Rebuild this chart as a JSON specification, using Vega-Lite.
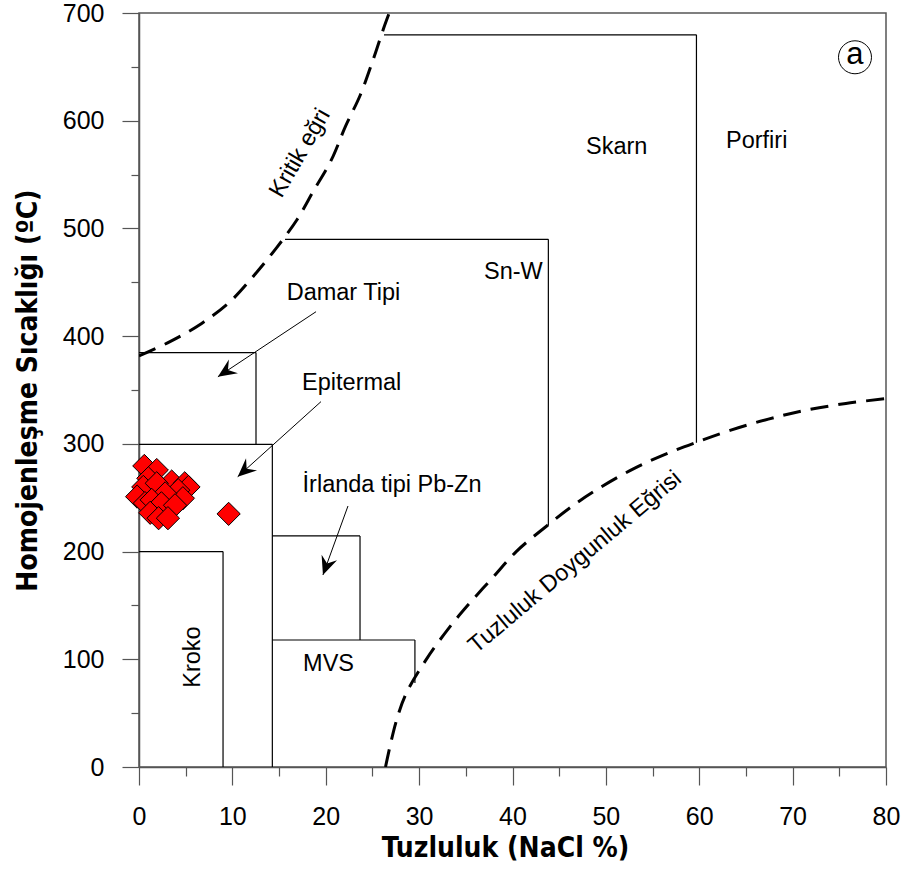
{
  "$schema": "https://vega.github.io/schema/vega-lite/v6.json",
  "width": 747,
  "height": 754,
  "autosize": "none",
  "padding": {"left": 139, "top": 13, "right": 17, "bottom": 105},
  "background": "white",
  "config": {
    "view": {"stroke": "#555555", "strokeWidth": 1.5},
    "axis": {
      "domainColor": "#555555",
      "domainWidth": 1.5,
      "tickColor": "#555555",
      "tickWidth": 1.2,
      "grid": false,
      "labelFont": "Liberation Sans",
      "labelFontSize": 25,
      "labelColor": "black",
      "labelOverlap": false,
      "labelFlush": false,
      "titleFont": "DejaVu Sans Condensed",
      "titleFontSize": 28,
      "titleFontWeight": "bold",
      "titleColor": "black"
    }
  },
  "datasets": {
    "boxes": [
      {"x": 0, "y": 200, "x2": 9.0, "y2": 200},
      {"x": 9.0, "y": 200, "x2": 9.0, "y2": 0},
      {"x": 0, "y": 299.6, "x2": 14.28, "y2": 299.6},
      {"x": 14.28, "y": 299.6, "x2": 14.28, "y2": 0},
      {"x": 0, "y": 384.7, "x2": 12.53, "y2": 384.7},
      {"x": 12.53, "y": 384.7, "x2": 12.53, "y2": 299.6},
      {"x": 14.28, "y": 214.5, "x2": 23.67, "y2": 214.5},
      {"x": 23.67, "y": 214.5, "x2": 23.67, "y2": 117.9},
      {"x": 14.28, "y": 117.9, "x2": 29.55, "y2": 117.9},
      {"x": 29.55, "y": 117.9, "x2": 29.55, "y2": 78},
      {"x": 15.64, "y": 489.9, "x2": 43.84, "y2": 489.9},
      {"x": 43.84, "y": 489.9, "x2": 43.84, "y2": 224},
      {"x": 26.24, "y": 679.7, "x2": 59.7, "y2": 679.7},
      {"x": 59.7, "y": 679.7, "x2": 59.7, "y2": 301}
    ],
    "shafts": [
      {"x": 18.96, "y": 422.7, "x2": 8.45, "y2": 362.3},
      {"x": 19.49, "y": 339.2, "x2": 10.57, "y2": 269.5},
      {"x": 22.38, "y": 242.3, "x2": 19.7, "y2": 178.3}
    ],
    "heads": [
      {"x": 8.45, "y": 362.3, "ang": 236.5},
      {"x": 10.57, "y": 269.5, "ang": 228},
      {"x": 19.7, "y": 178.3, "ang": 200}
    ],
    "curves": [
      {"curve": "Kritik", "x": 0, "y": 381.6},
      {"curve": "Kritik", "x": 3.32, "y": 394.9},
      {"curve": "Kritik", "x": 6.71, "y": 411.8},
      {"curve": "Kritik", "x": 9.75, "y": 432},
      {"curve": "Kritik", "x": 12.2, "y": 455.2},
      {"curve": "Kritik", "x": 14.6, "y": 480.6},
      {"curve": "Kritik", "x": 16.9, "y": 507.8},
      {"curve": "Kritik", "x": 18.7, "y": 535},
      {"curve": "Kritik", "x": 20.6, "y": 563.6},
      {"curve": "Kritik", "x": 22.1, "y": 594.5},
      {"curve": "Kritik", "x": 23.7, "y": 623.9},
      {"curve": "Kritik", "x": 25.0, "y": 654.8},
      {"curve": "Kritik", "x": 26.2, "y": 685.8},
      {"curve": "Kritik", "x": 26.8, "y": 700},
      {"curve": "Doygunluk", "x": 26.4, "y": 0},
      {"curve": "Doygunluk", "x": 27.5, "y": 41},
      {"curve": "Doygunluk", "x": 28.6, "y": 68},
      {"curve": "Doygunluk", "x": 30.7, "y": 99},
      {"curve": "Doygunluk", "x": 33.1, "y": 128},
      {"curve": "Doygunluk", "x": 35.3, "y": 151},
      {"curve": "Doygunluk", "x": 37.9, "y": 176},
      {"curve": "Doygunluk", "x": 40.4, "y": 200},
      {"curve": "Doygunluk", "x": 43.7, "y": 224},
      {"curve": "Doygunluk", "x": 46.6, "y": 243.5},
      {"curve": "Doygunluk", "x": 49.5, "y": 260},
      {"curve": "Doygunluk", "x": 53.1, "y": 277.5},
      {"curve": "Doygunluk", "x": 56.4, "y": 290.5},
      {"curve": "Doygunluk", "x": 59.7, "y": 301.5},
      {"curve": "Doygunluk", "x": 63.3, "y": 312.5},
      {"curve": "Doygunluk", "x": 67.4, "y": 323},
      {"curve": "Doygunluk", "x": 71.3, "y": 331},
      {"curve": "Doygunluk", "x": 75.7, "y": 337.5},
      {"curve": "Doygunluk", "x": 80, "y": 342}
    ],
    "samples": [
      {"x": 0.57, "y": 279.5},
      {"x": 1.9, "y": 275.7},
      {"x": 1.0, "y": 268},
      {"x": 3.5, "y": 265},
      {"x": 4.9, "y": 263.4},
      {"x": 5.3, "y": 260},
      {"x": 0.46, "y": 260},
      {"x": -0.2, "y": 251},
      {"x": 1.9, "y": 263.4},
      {"x": 4.2, "y": 257},
      {"x": 4.7, "y": 249.5},
      {"x": 2.8, "y": 254},
      {"x": 0.64, "y": 245},
      {"x": 1.36, "y": 248},
      {"x": 2.4, "y": 244.8},
      {"x": 3.86, "y": 243},
      {"x": 1.2, "y": 236},
      {"x": 2.1, "y": 231},
      {"x": 3.1, "y": 231},
      {"x": 9.6, "y": 235}
    ],
    "labels": [
      {"x": 51.16, "y": 575.3, "text": "Skarn", "angle": 0},
      {"x": 66.15, "y": 581.5, "text": "Porfiri", "angle": 0},
      {"x": 40.09, "y": 459.9, "text": "Sn-W", "angle": 0},
      {"x": 21.9, "y": 440.4, "text": "Damar Tipi", "angle": 0},
      {"x": 22.78, "y": 356.2, "text": "Epitermal", "angle": 0},
      {"x": 27.1, "y": 261.8, "text": "İrlanda tipi Pb-Zn", "angle": 0},
      {"x": 20.3, "y": 96, "text": "MVS", "angle": 0},
      {"x": 5.78, "y": 102.1, "text": "Kroko", "angle": 270},
      {"x": 17.24, "y": 570, "text": "Kritik eğri", "angle": 300},
      {"x": 46.7, "y": 190.3, "text": "Tuzluluk Doygunluk Eğrisi", "angle": 320}
    ],
    "badge": [
      {"x": 76.68, "y": 658.9, "text": "a"}
    ]
  },
  "layer": [
    {
      "data": {"name": "boxes"},
      "mark": {"type": "rule", "color": "black", "strokeWidth": 1.2},
      "encoding": {
        "x": {
          "field": "x", "type": "quantitative",
          "scale": {"domain": [0, 80], "nice": false, "zero": false},
          "title": "Tuzluluk (NaCl %)",
          "axis": {
            "values": [0, 5, 10, 15, 20, 25, 30, 35, 40, 45, 50, 55, 60, 65, 70, 75, 80],
            "format": "d",
            "labelExpr": "datum.value % 10 === 0 ? datum.label : ''",
            "tickSize": {"condition": {"test": "datum.value % 10 === 0", "value": 18}, "value": 9},
            "labelPadding": 19,
            "titlePadding": 5,
            "titleX": 366
          }
        },
        "y": {
          "field": "y", "type": "quantitative",
          "scale": {"domain": [0, 700], "nice": false, "zero": false},
          "title": "Homojenleşme Sıcaklığı (ºC)",
          "axis": {
            "values": [0, 50, 100, 150, 200, 250, 300, 350, 400, 450, 500, 550, 600, 650, 700],
            "format": "d",
            "labelExpr": "datum.value % 100 === 0 ? datum.label : ''",
            "tickSize": {"condition": {"test": "datum.value % 100 === 0", "value": 17}, "value": 8},
            "labelPadding": 18,
            "titlePadding": 20
          }
        },
        "x2": {"field": "x2"},
        "y2": {"field": "y2"}
      }
    },
    {
      "data": {"name": "shafts"},
      "mark": {"type": "rule", "color": "black", "strokeWidth": 1},
      "encoding": {
        "x": {"field": "x", "type": "quantitative"},
        "y": {"field": "y", "type": "quantitative"},
        "x2": {"field": "x2"},
        "y2": {"field": "y2"}
      }
    },
    {
      "data": {"name": "heads"},
      "mark": {"type": "point", "shape": "M0,0L-0.75,1.7L0,1.1L0.75,1.7Z", "filled": true, "color": "black", "size": 480, "opacity": 1, "strokeWidth": 0},
      "encoding": {
        "x": {"field": "x", "type": "quantitative"},
        "y": {"field": "y", "type": "quantitative"},
        "angle": {"field": "ang", "type": "quantitative", "scale": null}
      }
    },
    {
      "data": {"name": "curves"},
      "mark": {"type": "line", "color": "black", "strokeWidth": 3, "strokeDash": [18, 10], "interpolate": "catmull-rom", "clip": true},
      "encoding": {
        "x": {"field": "x", "type": "quantitative"},
        "y": {"field": "y", "type": "quantitative"},
        "detail": {"field": "curve", "type": "nominal"}
      }
    },
    {
      "data": {"name": "samples"},
      "mark": {"type": "point", "shape": "diamond", "filled": true, "fill": "#ff0000", "stroke": "black", "strokeWidth": 1, "size": 540, "opacity": 1},
      "encoding": {
        "x": {"field": "x", "type": "quantitative"},
        "y": {"field": "y", "type": "quantitative"}
      }
    },
    {
      "data": {"name": "labels"},
      "mark": {"type": "text", "font": "Liberation Sans", "fontSize": 23.5, "color": "black", "align": "center", "baseline": "middle"},
      "encoding": {
        "x": {"field": "x", "type": "quantitative"},
        "y": {"field": "y", "type": "quantitative"},
        "text": {"field": "text"},
        "angle": {"field": "angle", "type": "quantitative", "scale": null}
      }
    },
    {
      "data": {"name": "badge"},
      "mark": {"type": "point", "shape": "circle", "filled": false, "stroke": "black", "strokeWidth": 1, "size": 1089, "opacity": 1},
      "encoding": {
        "x": {"field": "x", "type": "quantitative"},
        "y": {"field": "y", "type": "quantitative"}
      }
    },
    {
      "data": {"name": "badge"},
      "mark": {"type": "text", "font": "Liberation Sans", "fontSize": 31, "color": "black", "align": "center", "baseline": "middle", "dy": -2},
      "encoding": {
        "x": {"field": "x", "type": "quantitative"},
        "y": {"field": "y", "type": "quantitative"},
        "text": {"field": "text"}
      }
    }
  ]
}
